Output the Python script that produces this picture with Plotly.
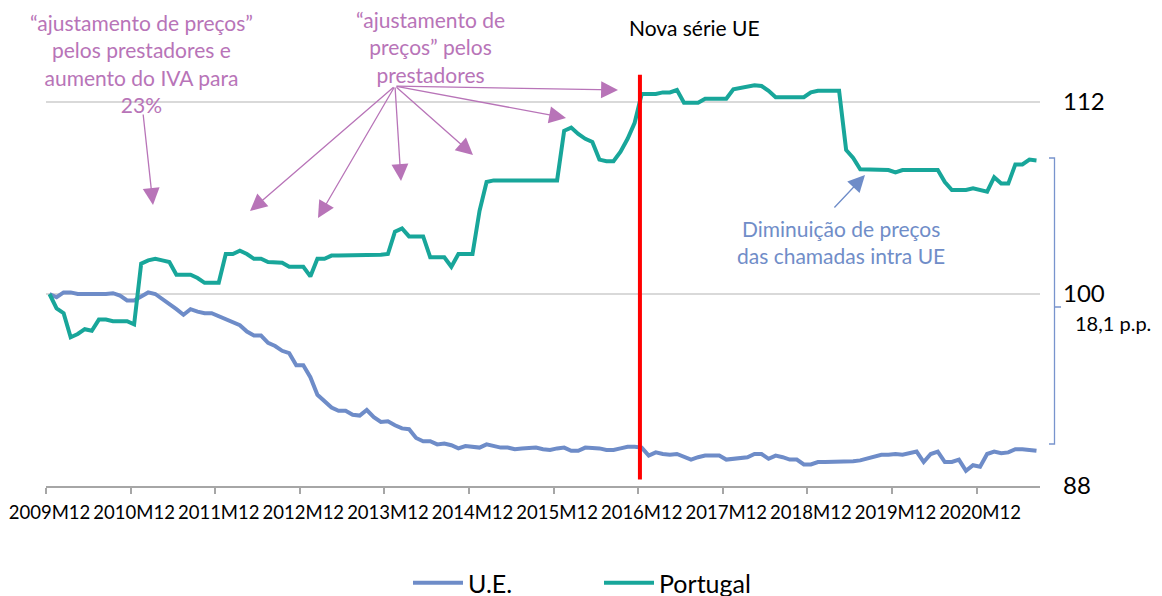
import plotly.graph_objects as go

# ---- data ----
start_year, start_month = 2009, 12
n_points = 141
months = []
y, m = start_year, start_month
for _ in range(n_points):
    months.append(f"{y}M{m:02d}")
    m += 1
    if m > 12:
        m = 1
        y += 1

ue = [
    100.0, 99.8, 100.1, 100.1, 100.0, 100.0, 99.95, 100.0, 100.0, 100.05, 99.9, 99.6,
    99.6, 99.85, 100.1, 100.0, 99.7, 99.35, 99.05, 98.7, 99.05, 98.9, 98.8, 98.8,
    98.6, 98.4, 98.2, 98.05, 97.65, 97.4, 97.4, 96.95, 96.75, 96.45, 96.3, 95.55,
    95.55, 94.8, 93.7, 93.3, 92.9, 92.7, 92.7, 92.45, 92.4, 92.75, 92.3, 92.0,
    92.05, 91.8, 91.6, 91.55, 91.0, 90.8, 90.8, 90.6, 90.65, 90.55, 90.35, 90.5,
    90.45, 90.4, 90.6, 90.5, 90.4, 90.4, 90.3, 90.35, 90.4, 90.4, 90.3, 90.25,
    90.35, 90.4, 90.2, 90.2, 90.4, 90.4, 90.35, 90.25, 90.25, 90.35, 90.45, 90.45,
    90.4, 89.9, 90.1, 90.0, 89.95, 90.0, 89.8, 89.65, 89.8, 89.9, 89.9, 89.9,
    89.65, 89.7, 89.8, 89.8, 90.0, 90.0, 89.7, 89.9, 89.8, 89.65, 89.65, 89.35,
    89.35, 89.5, 89.5, 89.5, 89.55, 89.5, 89.55, 89.6, 89.7, 89.85, 89.95, 89.95,
    90.0, 89.95, 90.05, 90.15, 89.5, 90.0, 90.15, 89.5, 89.5, 89.65, 88.95, 89.3,
    89.2, 90.0, 90.15, 90.05, 90.1, 90.3, 90.3, 90.25, 90.2,
]

portugal = [
    100.0, 99.1, 98.8, 97.3, 97.5, 97.8, 97.7, 98.4, 98.4, 98.3, 98.3, 98.3,
    98.1, 101.9, 102.1, 102.2, 102.1, 102.0, 101.2, 101.2, 101.2, 101.0, 100.7, 100.7,
    100.7, 102.5, 102.5, 102.7, 102.5, 102.2, 102.2, 102.0, 101.95, 101.95, 101.7, 101.7,
    101.7, 101.1, 102.2, 102.2, 102.4, 102.4, 102.4, 102.4, 102.4, 102.4, 102.45, 102.45,
    102.5, 103.9, 104.1, 103.6, 103.6, 103.6, 102.3, 102.3, 102.3, 101.7, 102.5, 102.5,
    102.5, 105.2, 107.0, 107.1, 107.1, 107.1, 107.1, 107.1, 107.1, 107.1, 107.1, 107.1,
    107.1, 110.2, 110.4, 110.0, 109.7, 109.5, 108.4, 108.3, 108.3, 108.9, 109.7, 110.7,
    112.5, 112.5, 112.5, 112.6, 112.6, 112.75, 111.95, 111.95, 111.95, 112.2, 112.2, 112.2,
    112.2, 112.8, 112.9, 113.0, 113.05, 113.0, 112.7, 112.3, 112.3, 112.3, 112.3, 112.3,
    112.6, 112.7, 112.7, 112.7, 112.7, 109.0, 108.5, 107.8, 107.8, 107.8, 107.8, 107.75,
    107.6, 107.75, 107.75, 107.75, 107.75, 107.75, 107.75, 107.0, 106.5, 106.5, 106.5, 106.6,
    106.5, 106.4, 107.3, 106.9, 106.9, 108.1, 108.1, 108.4, 108.35,
]

y_ticks = [88, 100, 112]
new_series_start = "2016M12"
gap_label = "18,1 p.p."

# ---- styling ----
FONT = "Lato"
C_UE = "rgb(110,140,200)"
C_PT = "rgb(24,166,154)"
C_PURPLE = "rgb(184,116,184)"
C_BLUE_TXT = "rgb(112,141,200)"

idx = list(range(len(months)))
tick_idx = idx[::12]
tick_txt = [months[i] for i in tick_idx]

fig = go.Figure()
fig.add_trace(go.Scatter(x=idx, y=ue, mode="lines", name="U.E.",
                         line=dict(color=C_UE, width=4)))
fig.add_trace(go.Scatter(x=idx, y=portugal, mode="lines", name="Portugal",
                         line=dict(color=C_PT, width=4)))

# layout geometry in page pixels (the page body adds an 8px margin)
PAGE_W, PAGE_H, BODY = 1162, 596, 8
L, R, T, B = 46, 1040, 70, 486
W, H = PAGE_W - BODY, PAGE_H - BODY


def px(x):
    return (x - L) / (R - L)


def py(y):
    return (B - y) / (B - T)


# red vertical line: new EU series
x_new = months.index(new_series_start) - 0.25
fig.add_shape(type="line", xref="x", yref="y", x0=x_new, x1=x_new, y0=88.4, y1=113.7,
              line=dict(color="#ff0000", width=4), layer="above")

# bracket showing the gap
bx = 1054.5
fig.add_shape(type="path", xref="paper", yref="paper",
              path=(f"M {px(1049)} {py(158)} L {px(bx)} {py(158)} L {px(bx)} {py(444)} "
                    f"L {px(1049)} {py(444)} M {px(bx)} {py(307)} L {px(1061)} {py(307)}"),
              line=dict(color="rgb(120,148,205)", width=1.3))

TXT = 21
annotations = []
annotations.append(dict(x=px(141), y=py(63.5), xref="paper", yref="paper",
                        text="“ajustamento de preços”<br>pelos prestadores e<br>aumento do IVA para<br>23%",
                        showarrow=False, font=dict(family=FONT, size=TXT, color=C_PURPLE),
                        align="center", xanchor="center", yanchor="middle"))
annotations.append(dict(x=px(430), y=py(47.5), xref="paper", yref="paper",
                        text="“ajustamento de<br>preços” pelos<br>prestadores",
                        showarrow=False, font=dict(family=FONT, size=TXT, color=C_PURPLE),
                        align="center", xanchor="center", yanchor="middle"))
annotations.append(dict(x=px(694), y=py(28), xref="paper", yref="paper",
                        text="Nova série UE", showarrow=False,
                        font=dict(family=FONT, size=TXT, color="black"),
                        xanchor="center", yanchor="middle"))
annotations.append(dict(x=px(841), y=py(242), xref="paper", yref="paper",
                        text="Diminuição de preços<br>das chamadas intra UE",
                        showarrow=False, font=dict(family=FONT, size=TXT, color=C_BLUE_TXT),
                        align="center", xanchor="center", yanchor="middle"))
annotations.append(dict(x=px(1073), y=py(323), xref="paper", yref="paper",
                        text=gap_label, showarrow=False,
                        font=dict(family=FONT, size=20, color="black"),
                        xanchor="left", yanchor="middle"))


def arrow(tip, origin, color):
    return dict(x=px(tip[0]), y=py(tip[1]), xref="paper", yref="paper", text="",
                showarrow=True, ax=origin[0] - tip[0], ay=origin[1] - tip[1],
                axref="pixel", ayref="pixel",
                arrowhead=2, arrowsize=2.6, arrowwidth=1.3, arrowcolor=color, standoff=0)


annotations.append(arrow((153, 205), (143, 113), C_PURPLE))
origin = (395, 86)
for tip in [(250, 211), (318, 218), (401, 181), (473, 155), (566, 118), (618, 90)]:
    annotations.append(arrow(tip, origin, C_PURPLE))
annotations.append(arrow((865, 175), (833, 209), C_UE))

fig.update_layout(
    width=W, height=H,
    margin=dict(l=L - BODY, r=PAGE_W - R, t=T - BODY, b=PAGE_H - B, autoexpand=False),
    paper_bgcolor="white", plot_bgcolor="white",
    font=dict(family=FONT, size=19, color="black"),
    showlegend=True,
    legend=dict(orientation="h", x=px(408), xanchor="left",
                y=py(583), yanchor="middle", font=dict(family=FONT, size=25, color="black"),
                itemwidth=50, entrywidth=126, bgcolor="rgba(0,0,0,0)"),
    annotations=annotations,
    xaxis=dict(range=[-0.5, len(months) - 0.5], tickvals=tick_idx, ticktext=tick_txt,
               ticks="", showgrid=False, zeroline=False, automargin=False, tickangle=0,
               showline=True, linecolor="#a6a6a6", linewidth=2,
               tickfont=dict(family=FONT, size=18.5, color="black"),
               ticklabelstandoff=9,
               minor=dict(tickvals=[i - 0.5 for i in tick_idx], ticks="outside",
                          ticklen=6, tickwidth=2, tickcolor="#a6a6a6", showgrid=False)),
    yaxis=dict(range=[88, 114], side="right", tickvals=y_ticks, automargin=False,
               showgrid=True, gridcolor="#d9d9d9", gridwidth=1.5,
               zeroline=False, showline=False, ticks="",
               tickfont=dict(family=FONT, size=24, color="black"),
               ticklabelstandoff=22),
)

fig.write_html("out.html")
